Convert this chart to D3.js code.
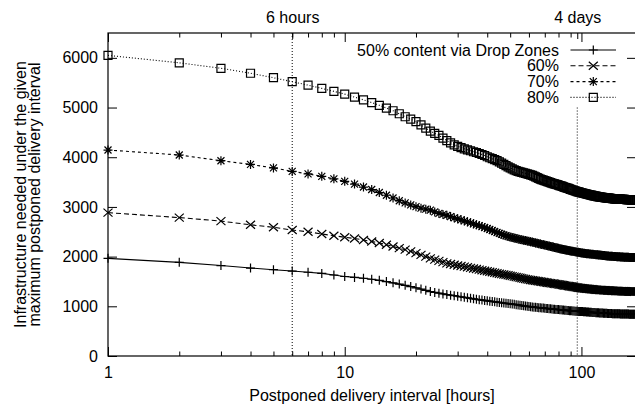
<!DOCTYPE html>
<html>
<head>
<meta charset="utf-8">
<script src="https://cdn.jsdelivr.net/npm/d3@7"></script>
<style>
  body { margin: 0; background: #fff; }
  svg { display: block; font-family: "Liberation Sans", Arial, Helvetica, sans-serif; font-size: 16px; }
</style>
</head>
<body>
<svg id="chart" width="635" height="408"></svg>
<script>
'use strict'

// one sample per hour, 1..168
const hours = d3.range(1, 169);

const s50 = [
  1965,1885,1820,1770,1737,1710,1685,1662,1630,1600,
  1582,1565,1545,1522,1497,1472,1447,1422,1397,1372,
  1347,1322,1297,1280,1265,1250,1237,1225,1213,1202,
  1191,1180,1170,1160,1150,1142,1134,1126,1118,1111,
  1104,1097,1090,1084,1078,1072,1066,1060,1054,1049,
  1044,1039,1033,1027,1021,1015,1009,1004,999,995,
  991,987,983,979,976,973,970,967,964,961,
  958,955,952,949,946,943,940,938,936,934,
  932,930,927,924,921,919,917,915,913,911,
  909,907,905,903,901,899,898,897,896,895,
  893,891,889,888,886,885,883,882,880,879,
  877,876,874,873,872,870,869,868,867,866,
  865,864,863,862,861,860,859,858,857,856,
  855,855,854,853,852,852,851,851,850,850,
  849,849,849,848,848,847,847,847,846,846,
  845,845,845,844,844,843,843,843,842,842,
  842,841,841,841,840,840,840,840
];
const s60 = [
  2885,2785,2715,2640,2590,2535,2500,2455,2420,2390,
  2365,2335,2305,2275,2240,2205,2170,2140,2105,2070,
  2035,2000,1965,1940,1915,1890,1865,1850,1836,1822,
  1810,1798,1786,1774,1762,1750,1738,1727,1716,1705,
  1695,1685,1675,1665,1655,1647,1640,1632,1624,1616,
  1608,1598,1590,1582,1574,1566,1558,1550,1543,1536,
  1529,1524,1519,1514,1509,1504,1499,1494,1489,1484,
  1479,1475,1470,1466,1462,1458,1454,1450,1446,1442,
  1438,1434,1430,1425,1420,1416,1412,1408,1404,1402,
  1398,1394,1390,1386,1382,1378,1374,1370,1367,1364,
  1362,1360,1358,1356,1354,1352,1350,1348,1346,1344,
  1342,1340,1338,1336,1334,1332,1331,1330,1329,1328,
  1327,1326,1325,1324,1323,1322,1321,1320,1319,1318,
  1317,1316,1315,1314,1313,1312,1311,1310,1309,1308,
  1308,1307,1307,1306,1306,1305,1305,1304,1304,1303,
  1303,1302,1302,1301,1301,1300,1300,1299,1299,1298,
  1298,1297,1297,1296,1296,1295,1295,1294
];
const s70 = [
  4145,4045,3930,3855,3785,3715,3665,3615,3565,3515,
  3460,3400,3350,3290,3235,3180,3125,3080,3040,3005,
  2975,2955,2935,2900,2870,2850,2830,2805,2780,2760,
  2740,2720,2700,2680,2660,2640,2625,2605,2585,2565,
  2545,2525,2505,2485,2467,2450,2435,2420,2407,2395,
  2384,2374,2364,2355,2346,2338,2330,2322,2314,2307,
  2300,2292,2284,2276,2268,2260,2253,2246,2239,2232,
  2226,2220,2213,2206,2199,2192,2185,2178,2172,2166,
  2160,2154,2148,2143,2138,2133,2128,2123,2118,2114,
  2110,2106,2102,2098,2094,2090,2086,2082,2078,2075,
  2072,2069,2066,2063,2060,2058,2056,2054,2052,2050,
  2048,2046,2044,2042,2040,2038,2036,2034,2032,2030,
  2028,2026,2024,2022,2020,2018,2016,2014,2012,2010,
  2009,2008,2007,2006,2005,2004,2003,2002,2001,2000,
  1999,1998,1997,1996,1995,1994,1993,1992,1991,1990,
  1989,1988,1987,1987,1986,1986,1985,1985,1984,1984,
  1983,1983,1982,1982,1981,1981,1980,1980
];
const s80 = [
  6050,5900,5790,5690,5600,5520,5450,5385,5325,5270,
  5210,5155,5100,5045,4990,4935,4875,4815,4765,4715,
  4650,4585,4525,4480,4440,4385,4335,4290,4250,4220,
  4195,4170,4150,4130,4110,4095,4075,4055,4035,4010,
  3990,3970,3950,3930,3905,3880,3855,3830,3805,3785,
  3765,3745,3730,3715,3705,3695,3685,3675,3665,3655,
  3645,3635,3620,3605,3590,3575,3560,3550,3540,3530,
  3520,3510,3500,3490,3480,3470,3462,3455,3448,3440,
  3430,3422,3414,3405,3395,3388,3380,3372,3365,3355,
  3346,3338,3330,3322,3315,3308,3302,3296,3290,3285,
  3280,3275,3270,3265,3260,3255,3250,3245,3240,3236,
  3232,3228,3224,3220,3216,3212,3208,3205,3202,3200,
  3197,3195,3193,3190,3188,3186,3184,3182,3180,3178,
  3176,3174,3172,3170,3168,3166,3164,3162,3160,3159,
  3158,3158,3157,3156,3155,3155,3154,3153,3152,3152,
  3151,3150,3149,3149,3148,3147,3146,3146,3145,3144,
  3144,3143,3142,3142,3141,3141,3140,3140
];

const seriesNames = ['50% content via Drop Zones', '60%', '70%', '80%'];
const seriesValues = [s50, s60, s70, s80];

const xMajor = [1, 10, 100];
const xMinor = [2, 3, 4, 5, 6, 7, 8, 9, 20, 30, 40, 50, 60, 70, 80, 90];
const yTicks = [0, 1000, 2000, 3000, 4000, 5000, 6000];
const markHours = [6, 96];
const markLabels = ['6 hours', '4 days'];
const markTops = [6500, 5000];

// styles
const marks = ['plus', 'cross', 'star', 'square'];
const dashes = [null, '5,3', '3,3', '1,2'];

const padL = 108, padR = 636, padT = 33, padB = 356;

const svg = d3.select('#chart');

const x = d3.scaleLog().domain([1, 170]).range([padL, padR]);
const y = d3.scaleLinear().domain([0, 6500]).range([padB, padT]);

function markerPath(type) {
  const h = 4.5;
  if (type === 'plus') return `M${-h},0H${h}M0,${-h}V${h}`;
  if (type === 'cross') return `M${-h},-4L${h},4M${-h},4L${h},-4`;
  if (type === 'star') return `M${-h},0H${h}M0,${-h}V${h}M-3.5,-3.5L3.5,3.5M-3.5,3.5L3.5,-3.5`;
  return `M-4,-4H4V4H-4Z`;
}

function styleAxis(g) {
  g.attr('font-size', null).attr('font-family', null);
  g.select('.domain').remove();
  g.selectAll('line').attr('stroke', '#000');
  g.selectAll('text').attr('fill', '#000');
}

// frame
svg.append('rect')
  .attr('x', padL).attr('y', padT)
  .attr('width', padR - padL).attr('height', padB - padT)
  .attr('fill', 'none').attr('stroke', '#000').attr('stroke-width', 1.2);

// bottom axis
svg.append('g').attr('transform', `translate(0,${padB})`)
  .call(d3.axisBottom(x).tickValues(xMajor).tickFormat(d3.format('d')).tickSize(-9).tickSizeOuter(0).tickPadding(11))
  .call(styleAxis);
svg.append('g').attr('transform', `translate(0,${padB})`)
  .call(d3.axisBottom(x).tickValues(xMinor).tickFormat('').tickSize(-4.5).tickSizeOuter(0))
  .call(styleAxis);

// top mirror ticks
svg.append('g').attr('transform', `translate(0,${padT})`)
  .call(d3.axisTop(x).tickValues(xMajor).tickFormat('').tickSize(-9).tickSizeOuter(0))
  .call(styleAxis);
svg.append('g').attr('transform', `translate(0,${padT})`)
  .call(d3.axisTop(x).tickValues(xMinor).tickFormat('').tickSize(-4.5).tickSizeOuter(0))
  .call(styleAxis);

// x2 labels
svg.append('g').attr('transform', `translate(0,${padT})`)
  .call(d3.axisTop(x).tickValues(markHours).tickFormat((d, i) => markLabels[i]).tickSize(-6).tickSizeOuter(0).tickPadding(10))
  .call(styleAxis);

// left / right axes
svg.append('g').attr('transform', `translate(${padL},0)`)
  .call(d3.axisLeft(y).tickValues(yTicks).tickFormat(d3.format('d')).tickSize(-9).tickSizeOuter(0).tickPadding(10))
  .call(styleAxis);
svg.append('g').attr('transform', `translate(${padR},0)`)
  .call(d3.axisRight(y).tickValues(yTicks).tickFormat('').tickSize(-9).tickSizeOuter(0))
  .call(styleAxis);

// reference lines at 6 hours and 4 days
svg.append('g').selectAll('line')
  .data(markHours)
  .enter().append('line')
    .attr('x1', d => x(d)).attr('x2', d => x(d))
    .attr('y1', (d, i) => y(markTops[i])).attr('y2', y(0))
    .attr('stroke', '#000').attr('stroke-width', 1)
    .attr('stroke-dasharray', '1,2');

// series
const line = d3.line().x((d, i) => x(hours[i])).y(d => y(d));

seriesValues.forEach((vals, k) => {
  const g = svg.append('g');
  g.append('path')
    .attr('d', line(vals))
    .attr('fill', 'none').attr('stroke', '#000').attr('stroke-width', 1.1)
    .attr('stroke-dasharray', dashes[k]);
  g.selectAll('path.pt')
    .data(vals)
    .enter().append('path')
      .attr('class', 'pt')
      .attr('transform', (d, i) => `translate(${x(hours[i])},${y(d)})`)
      .attr('d', markerPath(marks[k]))
      .attr('fill', 'none').attr('stroke', '#000').attr('stroke-width', 1.2);
});

// legend
const legend = svg.append('g');
seriesNames.forEach((name, k) => {
  const cy = 50 + k * 15.8;
  legend.append('text')
    .attr('x', 559).attr('y', cy).attr('dy', '0.35em')
    .attr('text-anchor', 'end').text(name);
  legend.append('line')
    .attr('x1', 570.5).attr('x2', 616).attr('y1', cy).attr('y2', cy)
    .attr('stroke', '#000').attr('stroke-width', 1.1)
    .attr('stroke-dasharray', dashes[k]);
  legend.append('path')
    .attr('transform', `translate(593.3,${cy})`)
    .attr('d', markerPath(marks[k]))
    .attr('fill', 'none').attr('stroke', '#000').attr('stroke-width', 1.2);
});

// axis titles
svg.append('text')
  .attr('x', (padL + padR) / 2).attr('y', 401)
  .attr('text-anchor', 'middle')
  .text('Postponed delivery interval [hours]');

const yTitle = ['Infrastructure needed under the given', 'maximum postponed delivery interval'];
yTitle.forEach((t, i) => {
  svg.append('text')
    .attr('transform', `translate(${26 + i * 14},${(padT + padB) / 2}) rotate(-90)`)
    .attr('text-anchor', 'middle')
    .text(t);
});
</script>
</body>
</html>
